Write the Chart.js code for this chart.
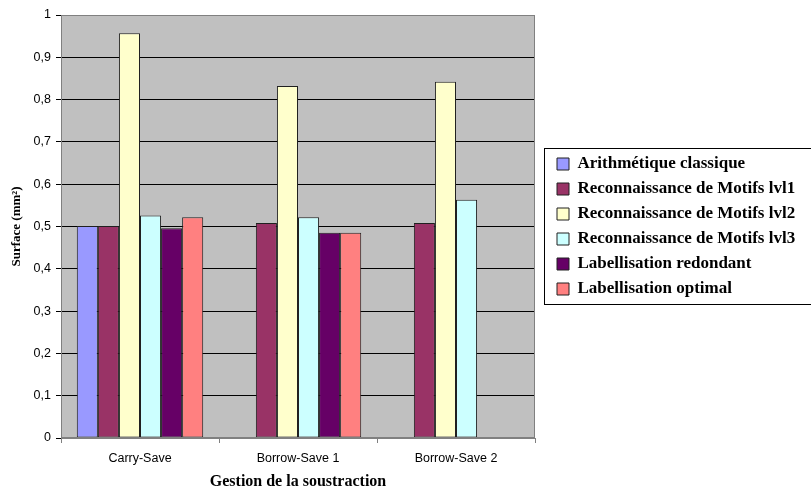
<!DOCTYPE html>
<html>
<head>
<meta charset="utf-8">
<script src="https://cdn.jsdelivr.net/npm/chart.js@4/dist/chart.umd.min.js"></script>
<style>
  body { margin: 0; background: #fff; }
  #wrap { width: 811px; height: 491px; }
</style>
</head>
<body>
<div id="wrap"><canvas id="chart" width="811" height="491"></canvas></div>
<script>
// categories (x axis)
let categories = ["Carry-Save", "Borrow-Save 1", "Borrow-Save 2"];
// series values, null = no bar
let arithClassique = [0.501, null, null];
let motifsLvl1 = [0.501, 0.508, 0.508];
let motifsLvl2 = [0.957, 0.832, 0.842];
let motifsLvl3 = [0.526, 0.522, 0.563];
let labRedondant = [0.496, 0.485, null];
let labOptimal = [0.522, 0.485, null];
let seriesNames = [
  "Arithmétique classique",
  "Reconnaissance de Motifs lvl1",
  "Reconnaissance de Motifs lvl2",
  "Reconnaissance de Motifs lvl3",
  "Labellisation redondant",
  "Labellisation optimal",
];
let seriesColors = ["#9999FF", "#993366", "#FFFFCC", "#CCFFFF", "#660066", "#FF8080"];
let allSeries = [arithClassique, motifsLvl1, motifsLvl2, motifsLvl3, labRedondant, labOptimal];

// grey plot area, grey frame and the legend frame
let excelLook = {
  id: "excelLook",
  beforeInit(chart) {
    let lg = chart.legend;
    if (lg) {
      let origFit = lg.fit;
      lg.fit = function () {
        origFit.call(this);
        this.width = 276;
      };
    }
  },
  afterLayout(chart) {
    if (chart.legend) chart.legend.left = 549;
  },
  beforeDraw(chart) {
    let { ctx, chartArea } = chart;
    ctx.save();
    ctx.fillStyle = "#C0C0C0";
    ctx.fillRect(chartArea.left, chartArea.top, chartArea.right - chartArea.left, chartArea.bottom - chartArea.top);
    ctx.restore();
  },
  afterDraw(chart) {
    let { ctx, chartArea } = chart;
    ctx.save();
    ctx.strokeStyle = "#808080";
    ctx.lineWidth = 1;
    let l = Math.round(chartArea.left) + 0.5;
    let t = Math.round(chartArea.top) + 0.5;
    let r = Math.round(chartArea.right) - 0.5;
    let b = Math.round(chartArea.bottom) - 0.5;
    ctx.strokeRect(l, t, r - l, b - t);
    let boxes = chart.legend.legendHitBoxes;
    if (boxes && boxes.length) {
      let first = boxes[0];
      let last = boxes[boxes.length - 1];
      let top = Math.round(first.top - 7.5) + 0.5;
      let bottom = Math.round(last.top + last.height + 6.5) + 0.5;
      ctx.strokeStyle = "#000";
      ctx.strokeRect(544.5, top, 400, bottom - top);
    }
    ctx.restore();
  },
};

let datasets = allSeries.map((vals, i) => ({
  label: seriesNames[i],
  data: vals,
  backgroundColor: seriesColors[i],
  borderColor: "#202020",
  borderWidth: 1,
  borderSkipped: false,
  categoryPercentage: 0.8,
  barPercentage: 1.0,
}));

new Chart(document.getElementById("chart"), {
  type: "bar",
  data: { labels: categories, datasets: datasets },
  plugins: [excelLook],
  options: {
    responsive: false,
    animation: false,
    layout: { padding: { top: 15, left: 5, right: 0, bottom: 0 } },
    plugins: {
      tooltip: { enabled: false },
      legend: {
        position: "right",
        fullSize: false,
        labels: {
          color: "#000",
          boxWidth: 12,
          boxHeight: 12,
          padding: 8,
          font: { family: "'Liberation Serif', 'Times New Roman', serif", size: 17, weight: "bold" },
        },
      },
    },
    scales: {
      x: {
        afterFit(scale) { scale.height = 53; },
        grid: { display: true, drawOnChartArea: false, drawTicks: true, tickLength: 5, color: "#808080", offset: true },
        border: { color: "#808080" },
        ticks: {
          color: "#000",
          padding: 8,
          font: { family: "'Liberation Sans', Arial, sans-serif", size: 12.5 },
        },
        title: {
          display: true,
          text: "Gestion de la soustraction",
          color: "#000",
          padding: { top: 0, bottom: 0 },
          font: { family: "'Liberation Serif', 'Times New Roman', serif", size: 16, weight: "bold", lineHeight: 1.1 },
        },
      },
      y: {
        min: 0,
        max: 1,
        afterFit(scale) { scale.width = 56; },
        grid: { color: "#000", tickLength: 5 },
        border: { color: "#808080" },
        ticks: {
          stepSize: 0.1,
          color: "#000",
          padding: 5,
          font: { family: "'Liberation Sans', Arial, sans-serif", size: 12.5 },
          callback: (v) => String(Math.round(v * 10) / 10).replace(".", ","),
        },
        title: {
          display: true,
          text: "Surface (mm²)",
          color: "#000",
          padding: { top: 4, bottom: 4 },
          font: { family: "'Liberation Serif', 'Times New Roman', serif", size: 13, weight: "bold" },
        },
      },
    },
  },
});
</script>
</body>
</html>
